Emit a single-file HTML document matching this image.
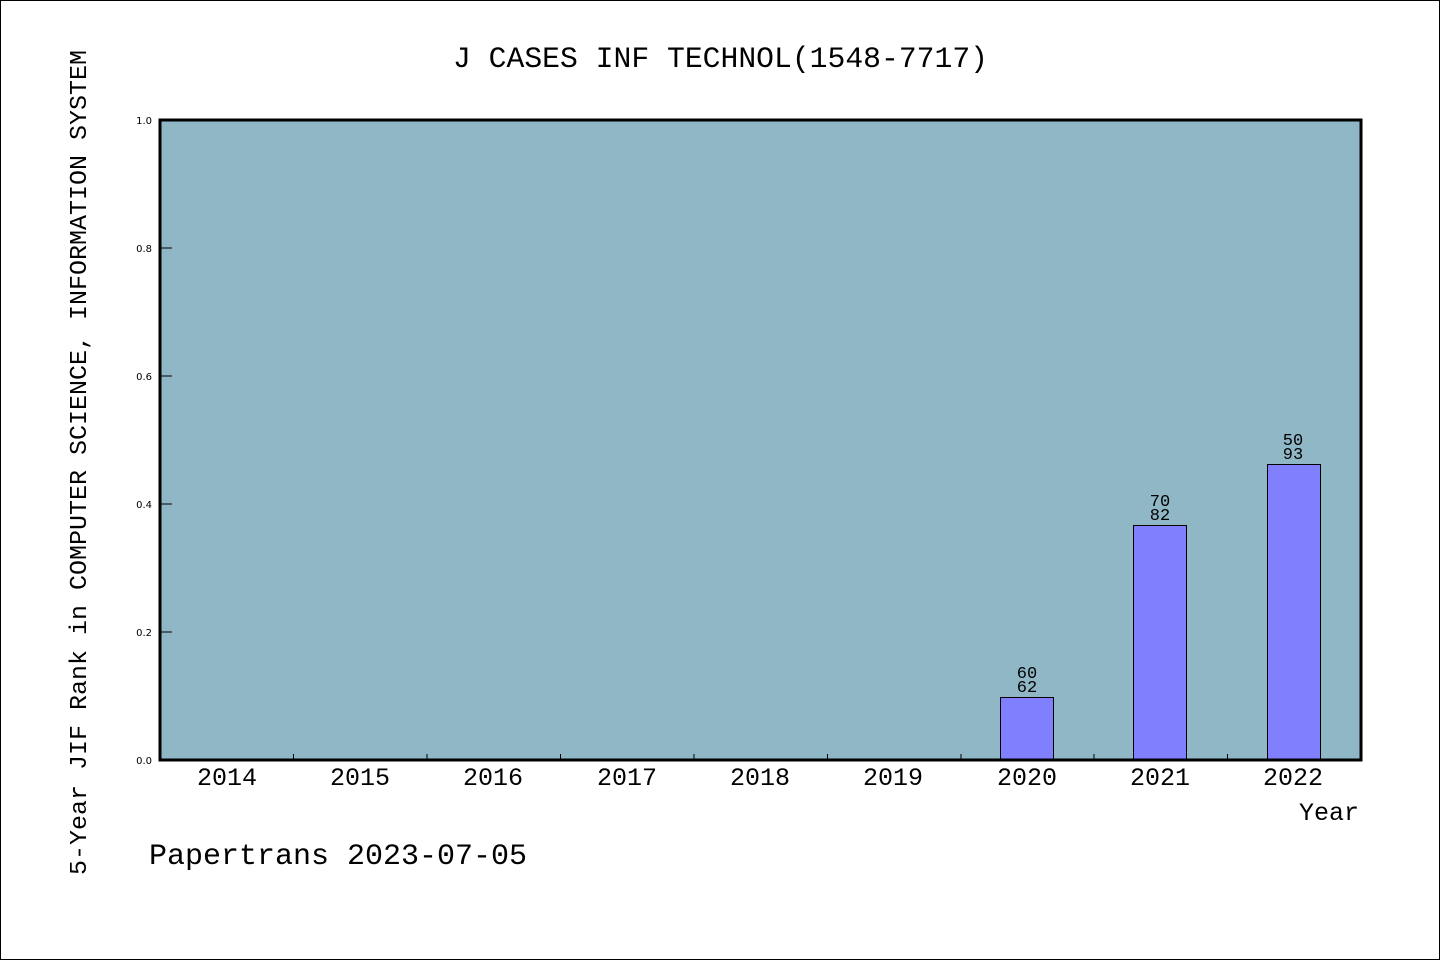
<!DOCTYPE html>
<html><head><meta charset="utf-8"><style>
html,body{margin:0;padding:0;background:#fff}
svg{display:block}
.m{font-family:"WenQuanYi Zen Hei","Liberation Mono",monospace;fill:#000}
.s{font-family:"DejaVu Sans","Liberation Sans",sans-serif;font-size:10px;fill:#000}
</style></head><body>
<svg width="1440" height="960" viewBox="0 0 1440 960" xmlns="http://www.w3.org/2000/svg">
<rect x="0.5" y="0.5" width="1439" height="959" fill="#fff" stroke="#000" stroke-width="1"/>
<text class="m" x="453" y="67" font-size="30" textLength="535" lengthAdjust="spacingAndGlyphs">J CASES INF TECHNOL(1548-7717)</text>
<rect x="160" y="120" width="1201" height="640" fill="#8fb7c6"/>
<g stroke="#000" stroke-width="1">
<line x1="160" y1="248" x2="172" y2="248"/><line x1="160" y1="376" x2="172" y2="376"/>
<line x1="160" y1="504" x2="172" y2="504"/><line x1="160" y1="632" x2="172" y2="632"/>
<line x1="293.5" y1="760" x2="293.5" y2="754"/><line x1="427" y1="760" x2="427" y2="754"/>
<line x1="560.5" y1="760" x2="560.5" y2="754"/><line x1="694" y1="760" x2="694" y2="754"/>
<line x1="827.5" y1="760" x2="827.5" y2="754"/><line x1="961" y1="760" x2="961" y2="754"/>
<line x1="1094" y1="760" x2="1094" y2="754"/><line x1="1227.5" y1="760" x2="1227.5" y2="754"/>
</g>
<g fill="#8080ff" stroke="#000" stroke-width="1">
<rect x="1000.5" y="697.5" width="53" height="63"/>
<rect x="1133.5" y="525.5" width="53" height="235"/>
<rect x="1267.5" y="464.5" width="53" height="296"/>
</g>
<rect x="160" y="120" width="1201" height="640" fill="none" stroke="#000" stroke-width="3"/>
<g class="m" font-size="17" text-anchor="middle">
<text x="1027" y="678">60</text><text x="1027" y="692">62</text>
<text x="1160" y="506">70</text><text x="1160" y="520">82</text>
<text x="1293" y="445">50</text><text x="1293" y="459">93</text>
</g>
<g class="s" text-anchor="end">
<text x="152" y="124">1.0</text><text x="152" y="252">0.8</text><text x="152" y="380">0.6</text>
<text x="152" y="508">0.4</text><text x="152" y="636">0.2</text><text x="152" y="764">0.0</text>
</g>
<g class="m" font-size="25" text-anchor="middle">
<text x="227" y="785">2014</text><text x="360" y="785">2015</text><text x="493" y="785">2016</text>
<text x="627" y="785">2017</text><text x="760" y="785">2018</text><text x="893" y="785">2019</text>
<text x="1027" y="785">2020</text><text x="1160" y="785">2021</text><text x="1293" y="785">2022</text>
</g>
<text class="m" x="1359" y="820" font-size="25" text-anchor="end">Year</text>
<text class="m" x="149" y="864" font-size="30" textLength="378" lengthAdjust="spacingAndGlyphs">Papertrans 2023-07-05</text>
<text class="m" transform="translate(86,875) rotate(-90)" font-size="24" textLength="825" lengthAdjust="spacingAndGlyphs">5-Year JIF Rank in COMPUTER SCIENCE, INFORMATION SYSTEM</text>
</svg>
</body></html>
